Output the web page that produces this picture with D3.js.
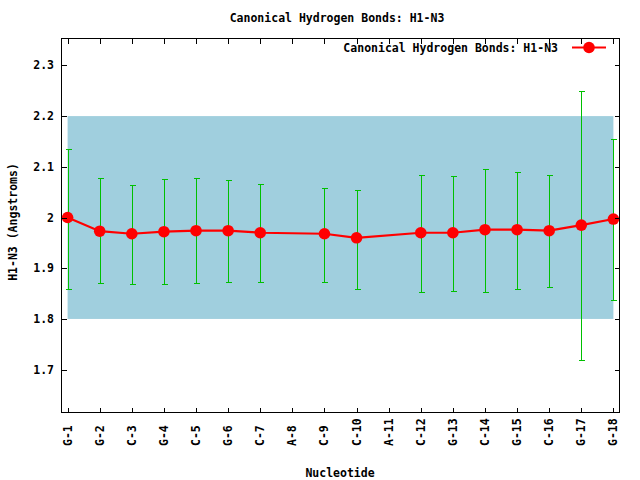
<!DOCTYPE html>
<html>
<head>
<meta charset="utf-8">
<script src="https://cdn.jsdelivr.net/npm/d3@7"></script>
<style>
html,body{margin:0;padding:0;background:#fff;}
svg text{font-family:"DejaVu Sans Mono","Liberation Mono",monospace;font-weight:bold;font-size:11.5px;fill:#000;}
</style>
</head>
<body>
<svg id="chart" width="640" height="480"></svg>
<script>
const categories = ["G-1","G-2","C-3","G-4","C-5","G-6","C-7","A-8","C-9","C-10","A-11","C-12","G-13","C-14","G-15","C-16","G-17","G-18"];
const means  = [2.000,1.973,1.968,1.972,1.974,1.974,1.970,null,1.968,1.960,null,1.970,1.970,1.976,1.976,1.974,1.985,1.997];
const upper  = [2.136,2.077,2.065,2.075,2.077,2.073,2.067,null,2.059,2.055,null,2.083,2.081,2.095,2.089,2.083,2.249,2.154];
const lower  = [1.860,1.870,1.868,1.868,1.870,1.872,1.872,null,1.872,1.860,null,1.854,1.856,1.854,1.860,1.862,1.720,1.838];
const yTicks = [1.7,1.8,1.9,2.0,2.1,2.2,2.3];
const yTickLabels = ["1.7","1.8","1.9","2","2.1","2.2","2.3"];
const band = [1.8,2.2];
const titleText = "Canonical Hydrogen Bonds: H1-N3";
const legendText = "Canonical Hydrogen Bonds: H1-N3";
const xLabel = "Nucleotide";
const yLabel = "H1-N3 (Angstroms)";

const svg = d3.select("#chart");
const L = 61.5, R = 619.5, T = 38.5, B = 412.5;

const x = d3.scaleLinear().domain([0.81, 18.19]).range([L, R]);
const y = d3.scaleLinear().domain([1.6155, 2.353]).range([B, T]);

const pts = categories.map((c,i)=>({c, i:i+1, m:means[i], u:upper[i], l:lower[i]})).filter(d=>d.m!==null);

// shaded band
svg.append("rect")
  .attr("x", x(1)).attr("y", y(band[1]))
  .attr("width", x(18)-x(1)).attr("height", y(band[0])-y(band[1]))
  .attr("fill", "#a0cfde");

// error bars
const eb = svg.append("g").attr("stroke","#00c000").attr("stroke-width",1).attr("shape-rendering","crispEdges");
pts.forEach(d=>{
  const cx = Math.round(x(d.i))+0.5;
  eb.append("line").attr("x1",cx).attr("x2",cx).attr("y1",y(d.u)).attr("y2",y(d.l));
  eb.append("line").attr("x1",cx-3).attr("x2",cx+3).attr("y1",Math.round(y(d.u))+0.5).attr("y2",Math.round(y(d.u))+0.5);
  eb.append("line").attr("x1",cx-3).attr("x2",cx+3).attr("y1",Math.round(y(d.l))+0.5).attr("y2",Math.round(y(d.l))+0.5);
});

// line
const line = d3.line().x(d=>x(d.i)).y(d=>y(d.m));
svg.append("path").datum(pts).attr("d", line).attr("fill","none").attr("stroke","#ff0000").attr("stroke-width",2.2);

// points
svg.append("g").selectAll("circle").data(pts).join("circle")
  .attr("cx", d=>x(d.i)).attr("cy", d=>y(d.m)).attr("r", 5.8).attr("fill","#ff0000");

// frame
svg.append("rect").attr("x",L).attr("y",T).attr("width",R-L).attr("height",B-T)
  .attr("fill","none").attr("stroke","#000").attr("stroke-width",1).attr("shape-rendering","crispEdges");

// ticks
const tk = svg.append("g").attr("stroke","#000").attr("stroke-width",1).attr("shape-rendering","crispEdges");
categories.forEach((c,i)=>{
  const cx = Math.round(x(i+1))+0.5;
  tk.append("line").attr("x1",cx).attr("x2",cx).attr("y1",B).attr("y2",B-5);
  tk.append("line").attr("x1",cx).attr("x2",cx).attr("y1",T).attr("y2",T+5);
});
yTicks.forEach(v=>{
  const cy = Math.round(y(v))+0.5;
  tk.append("line").attr("x1",L).attr("x2",L+5).attr("y1",cy).attr("y2",cy);
  tk.append("line").attr("x1",R).attr("x2",R-5).attr("y1",cy).attr("y2",cy);
});

// y tick labels
svg.append("g").selectAll("text").data(yTicks).join("text")
  .attr("x", 54).attr("y", d=>y(d)).attr("dy","0.35em").attr("text-anchor","end")
  .text((d,i)=>yTickLabels[i]);

// x tick labels rotated
svg.append("g").selectAll("text").data(categories).join("text")
  .attr("transform",(d,i)=>`translate(${x(i+1)+4},446) rotate(-90)`)
  .attr("text-anchor","start")
  .text(d=>d);

// title
svg.append("text").attr("x",337).attr("y",22).attr("text-anchor","middle").text(titleText);
// axis labels
svg.append("text").attr("x",340).attr("y",477).attr("text-anchor","middle").text(xLabel);
svg.append("text").attr("transform",`translate(17,222) rotate(-90)`).attr("text-anchor","middle").text(yLabel);

// legend
svg.append("text").attr("x",558).attr("y",52).attr("text-anchor","end").text(legendText);
svg.append("line").attr("x1",572).attr("x2",606).attr("y1",47.5).attr("y2",47.5).attr("stroke","#ff0000").attr("stroke-width",2.2);
svg.append("circle").attr("cx",589).attr("cy",47.5).attr("r",5.8).attr("fill","#ff0000");
</script>
</body>
</html>
